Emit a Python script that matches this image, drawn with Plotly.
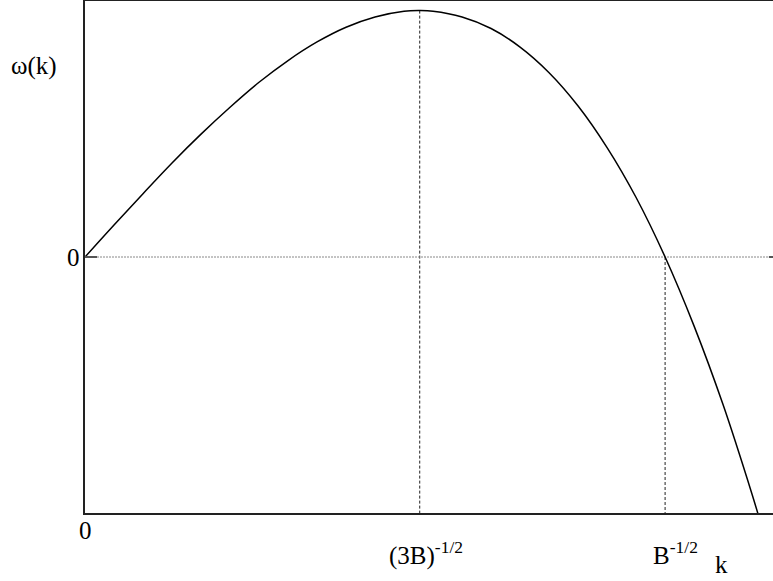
import plotly.graph_objects as go

# Dispersion curve omega(k) in units where B = 1
k_vals = [0.0, 0.05, 0.10, 0.15, 0.20, 0.25, 0.30, 0.35, 0.40, 0.45, 0.50, 0.55,
          0.577, 0.60, 0.65, 0.70, 0.75, 0.80, 0.85, 0.90, 0.95, 1.00, 1.05,
          1.10, 1.15, 1.16]
omega_vals = [0.0, 0.050, 0.099, 0.147, 0.192, 0.234, 0.273, 0.307, 0.336, 0.359,
              0.375, 0.384, 0.385, 0.384, 0.375, 0.357, 0.328, 0.288, 0.236,
              0.171, 0.093, 0.0, -0.108, -0.231, -0.371, -0.401]

# Special wavenumbers: maximum of omega and its zero crossing
k_peak = 0.577
omega_peak = 0.385
k_zero = 1.0

x_range = [0.0, 1.186]
y_range = [-0.4, 0.4]

FONT = "Liberation Serif"

fig = go.Figure()

# Dashed guide from the maximum down to the axis
fig.add_trace(go.Scatter(x=[k_peak, k_peak], y=[omega_peak, y_range[0]], mode="lines",
                         line=dict(color="#222", width=1, dash="3px,2px"),
                         hoverinfo="skip", showlegend=False))
# Dashed guide from the zero crossing down to the axis
fig.add_trace(go.Scatter(x=[k_zero, k_zero], y=[0, y_range[0]], mode="lines",
                         line=dict(color="#222", width=1, dash="3px,2px"),
                         hoverinfo="skip", showlegend=False))
# Dotted zero level
fig.add_trace(go.Scatter(x=x_range, y=[0, 0], mode="lines",
                         line=dict(color="#888", width=1, dash="2px,1px"),
                         hoverinfo="skip", showlegend=False))
# The curve
fig.add_trace(go.Scatter(x=k_vals, y=omega_vals, mode="lines",
                         line=dict(color="black", width=1.5, shape="spline"),
                         hoverinfo="skip", showlegend=False))

# Short tick at omega = 0 on the right edge
fig.add_shape(type="line", xref="paper", yref="y", x0=0.994, x1=1.0, y0=0, y1=0,
              line=dict(color="#555", width=2))

font = dict(family=FONT, size=25, color="black")
sup = "<sup>-1/2</sup>"
annotations = [
    dict(text="ω(k)", xref="paper", yref="paper", x=0, xshift=-51, y=(513 - 66) / 512,
         xanchor="center", yanchor="middle"),
    dict(text="0", xref="x", yref="y", x=0, xshift=-12, y=0,
         xanchor="center", yanchor="middle"),
    dict(text="0", xref="x", yref="paper", x=0, y=0, yshift=-17,
         xanchor="center", yanchor="middle"),
    dict(text="(3B)" + sup, xref="x", yref="paper", x=k_peak, xshift=-33, y=0, yshift=-40,
         xanchor="left", yanchor="middle"),
    dict(text="B" + sup, xref="x", yref="paper", x=k_zero, xshift=-14, y=0, yshift=-40,
         xanchor="left", yanchor="middle"),
    dict(text="k", xref="paper", yref="paper", x=0, xshift=636, y=0, yshift=-51,
         xanchor="center", yanchor="middle"),
]
for a in annotations:
    a.update(showarrow=False, font=font)

fig.update_layout(
    width=773, height=581,
    margin=dict(l=85, r=0, t=1, b=68),
    paper_bgcolor="white", plot_bgcolor="white",
    annotations=annotations,
    xaxis=dict(range=x_range, showgrid=False, zeroline=False, showticklabels=False,
               ticks="", showline=True, mirror=True, linecolor="#222", linewidth=2),
    yaxis=dict(range=y_range, showgrid=False, zeroline=False, showticklabels=False,
               ticks="inside", tickvals=[0], ticklen=12, tickwidth=2, tickcolor="#555",
               showline=True, mirror=False, linecolor="#222", linewidth=2),
)

fig.write_html("out.html")
